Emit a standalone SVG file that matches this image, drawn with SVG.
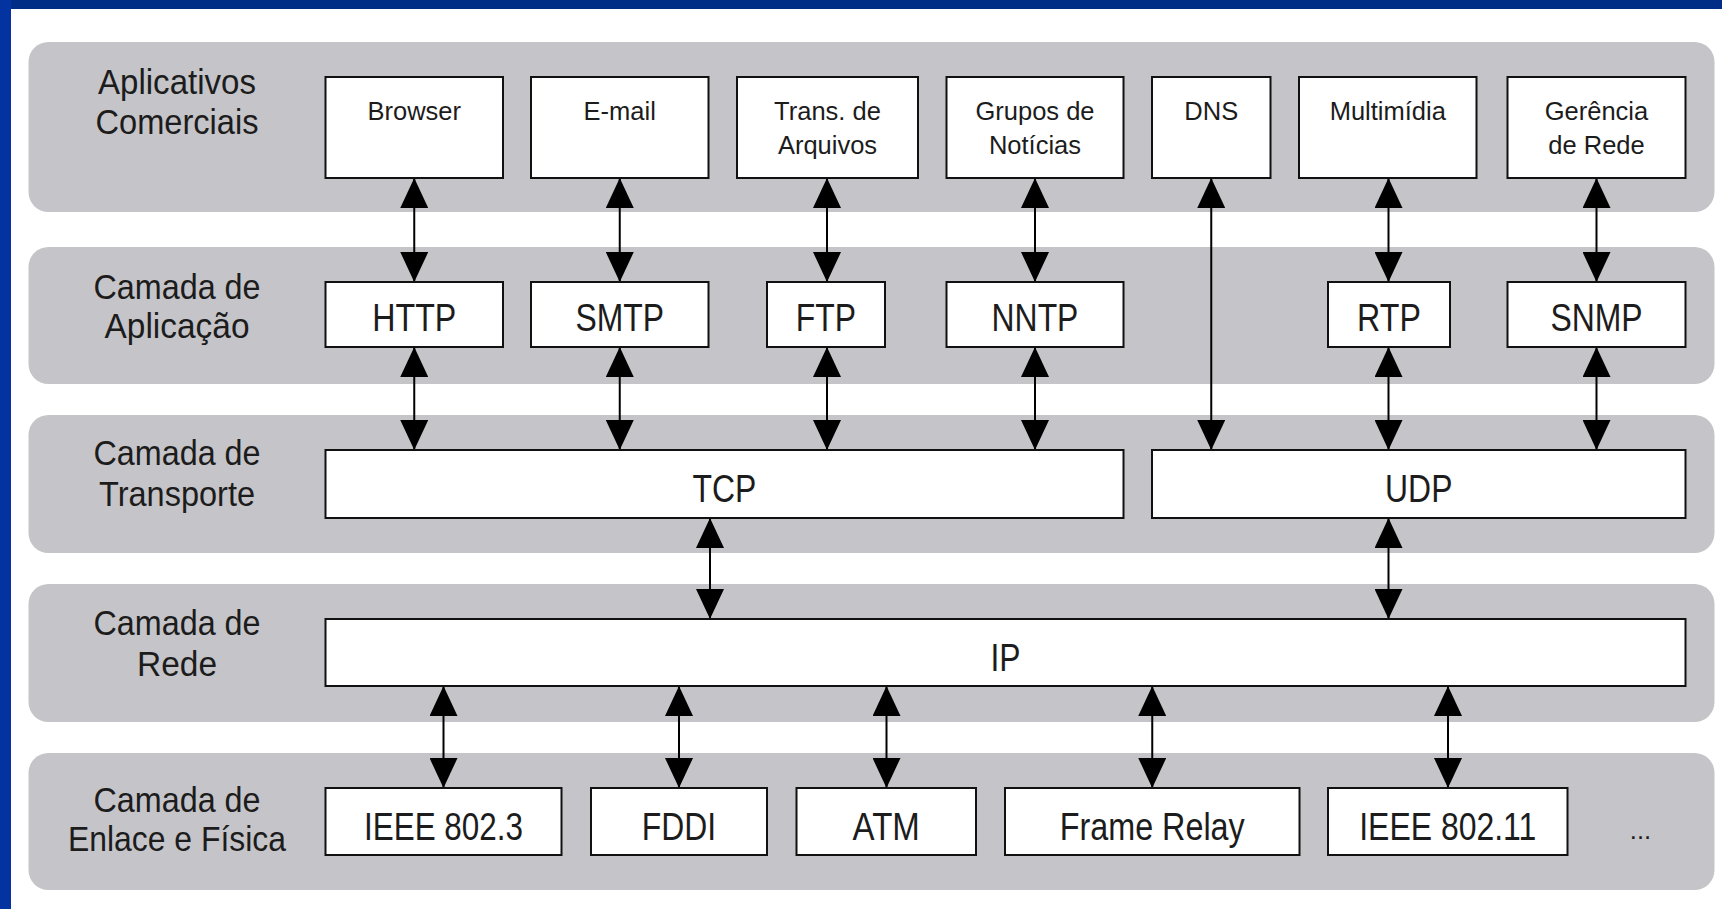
<svg xmlns="http://www.w3.org/2000/svg" width="1722" height="909" viewBox="0 0 1722 909">
  <style>
    .band { fill: #c5c4c8; }
    .box { fill: #ffffff; stroke: #111111; stroke-width: 2; }
    .layer { font-family: "Liberation Sans", Arial, sans-serif; font-size: 35px; fill: #1c1c1c; text-anchor: middle; }
    .app { font-family: "Liberation Sans", Arial, sans-serif; font-size: 25.5px; fill: #1c1c1c; text-anchor: middle; }
    .proto { font-family: "Liberation Sans", Arial, sans-serif; font-size: 38px; fill: #1c1c1c; text-anchor: middle; }
    .link { stroke: #000000; stroke-width: 2; fill: none; marker-start: url(#head); marker-end: url(#head); }
  </style>
  <defs>
    <marker id="head" viewBox="0 0 30 28" refX="30" refY="14" markerWidth="30" markerHeight="28" markerUnits="userSpaceOnUse" orient="auto-start-reverse">
      <path d="M0,0 L30,14 L0,28 Z" fill="#000000"/>
    </marker>
  </defs>

  <!-- page and frame -->
  <rect x="0" y="0" width="1722" height="909" fill="#ffffff"/>
  <rect x="0" y="0" width="1722" height="9" fill="#022d86"/>
  <rect x="0" y="0" width="11" height="909" fill="#0333a0"/>

  <!-- layer bands -->
  <g id="bands">
    <rect class="band" x="28.5" y="42" width="1686" height="170" rx="20" ry="20"/>
    <rect class="band" x="28.5" y="247" width="1686" height="137" rx="20" ry="20"/>
    <rect class="band" x="28.5" y="415" width="1686" height="138" rx="20" ry="20"/>
    <rect class="band" x="28.5" y="584" width="1686" height="138" rx="20" ry="20"/>
    <rect class="band" x="28.5" y="753" width="1686" height="137" rx="20" ry="20"/>
  </g>

  <!-- layer titles -->
  <g id="layer-titles">
    <text class="layer" x="177" y="93.5" textLength="158" lengthAdjust="spacingAndGlyphs">Aplicativos</text>
    <text class="layer" x="177" y="134" textLength="163" lengthAdjust="spacingAndGlyphs">Comerciais</text>
    <text class="layer" x="177" y="298.5" textLength="167" lengthAdjust="spacingAndGlyphs">Camada de</text>
    <text class="layer" x="177" y="337.5" textLength="145" lengthAdjust="spacingAndGlyphs">Aplicação</text>
    <text class="layer" x="177" y="465" textLength="167" lengthAdjust="spacingAndGlyphs">Camada de</text>
    <text class="layer" x="177" y="506" textLength="156" lengthAdjust="spacingAndGlyphs">Transporte</text>
    <text class="layer" x="177" y="635" textLength="167" lengthAdjust="spacingAndGlyphs">Camada de</text>
    <text class="layer" x="177" y="676" textLength="80" lengthAdjust="spacingAndGlyphs">Rede</text>
    <text class="layer" x="177" y="811.5" textLength="167" lengthAdjust="spacingAndGlyphs">Camada de</text>
    <text class="layer" x="177" y="850.5" textLength="218" lengthAdjust="spacingAndGlyphs">Enlace e Física</text>
  </g>

  <!-- connectors -->
  <g id="connectors">
    <line class="link" x1="414.25" y1="178" x2="414.25" y2="282"/>
    <line class="link" x1="619.75" y1="178" x2="619.75" y2="282"/>
    <line class="link" x1="827" y1="178" x2="827" y2="282"/>
    <line class="link" x1="1035" y1="178" x2="1035" y2="282"/>
    <line class="link" x1="1388.5" y1="178" x2="1388.5" y2="282"/>
    <line class="link" x1="1596.5" y1="178" x2="1596.5" y2="282"/>

    <line class="link" x1="414.25" y1="347" x2="414.25" y2="450"/>
    <line class="link" x1="619.75" y1="347" x2="619.75" y2="450"/>
    <line class="link" x1="827" y1="347" x2="827" y2="450"/>
    <line class="link" x1="1035" y1="347" x2="1035" y2="450"/>
    <line class="link" x1="1211.25" y1="178" x2="1211.25" y2="450"/>
    <line class="link" x1="1388.5" y1="347" x2="1388.5" y2="450"/>
    <line class="link" x1="1596.5" y1="347" x2="1596.5" y2="450"/>

    <line class="link" x1="710" y1="518" x2="710" y2="619"/>
    <line class="link" x1="1388.5" y1="518" x2="1388.5" y2="619"/>

    <line class="link" x1="443.5" y1="686" x2="443.5" y2="788"/>
    <line class="link" x1="679" y1="686" x2="679" y2="788"/>
    <line class="link" x1="886.5" y1="686" x2="886.5" y2="788"/>
    <line class="link" x1="1152.25" y1="686" x2="1152.25" y2="788"/>
    <line class="link" x1="1448" y1="686" x2="1448" y2="788"/>
  </g>

  <!-- commercial applications -->
  <g id="browser"><rect class="box" x="325.5" y="77" width="177.5" height="101"/><text class="app" x="414.25" y="120">Browser</text></g>
  <g id="email"><rect class="box" x="531" y="77" width="177.5" height="101"/><text class="app" x="619.75" y="120">E-mail</text></g>
  <g id="transfer"><rect class="box" x="737" y="77" width="181" height="101"/><text class="app" x="827.5" y="120">Trans. de</text><text class="app" x="827.5" y="154">Arquivos</text></g>
  <g id="news"><rect class="box" x="946.5" y="77" width="177" height="101"/><text class="app" x="1035" y="120">Grupos de</text><text class="app" x="1035" y="154">Notícias</text></g>
  <g id="dns"><rect class="box" x="1152" y="77" width="118.5" height="101"/><text class="app" x="1211.25" y="120">DNS</text></g>
  <g id="multimedia"><rect class="box" x="1299" y="77" width="177.5" height="101"/><text class="app" x="1387.75" y="120">Multimídia</text></g>
  <g id="management"><rect class="box" x="1507.5" y="77" width="178" height="101"/><text class="app" x="1596.5" y="120">Gerência</text><text class="app" x="1596.5" y="154">de Rede</text></g>

  <!-- application layer -->
  <g id="http"><rect class="box" x="325.5" y="282" width="177.5" height="65"/><text class="proto" x="414.25" y="331" textLength="84" lengthAdjust="spacingAndGlyphs">HTTP</text></g>
  <g id="smtp"><rect class="box" x="531" y="282" width="177.5" height="65"/><text class="proto" x="619.75" y="331" textLength="88.6" lengthAdjust="spacingAndGlyphs">SMTP</text></g>
  <g id="ftp"><rect class="box" x="767" y="282" width="118" height="65"/><text class="proto" x="826" y="331" textLength="60.3" lengthAdjust="spacingAndGlyphs">FTP</text></g>
  <g id="nntp"><rect class="box" x="946.5" y="282" width="177" height="65"/><text class="proto" x="1035" y="331" textLength="86.8" lengthAdjust="spacingAndGlyphs">NNTP</text></g>
  <g id="rtp"><rect class="box" x="1328" y="282" width="122" height="65"/><text class="proto" x="1389" y="331" textLength="63.8" lengthAdjust="spacingAndGlyphs">RTP</text></g>
  <g id="snmp"><rect class="box" x="1507.5" y="282" width="178" height="65"/><text class="proto" x="1596.5" y="331" textLength="92.2" lengthAdjust="spacingAndGlyphs">SNMP</text></g>

  <!-- transport layer -->
  <g id="tcp"><rect class="box" x="325.5" y="450" width="798" height="68"/><text class="proto" x="724.5" y="502" textLength="63.8" lengthAdjust="spacingAndGlyphs">TCP</text></g>
  <g id="udp"><rect class="box" x="1152" y="450" width="533.5" height="68"/><text class="proto" x="1418.75" y="502" textLength="67.3" lengthAdjust="spacingAndGlyphs">UDP</text></g>

  <!-- network layer -->
  <g id="ip"><rect class="box" x="325.5" y="619" width="1360" height="67"/><text class="proto" x="1005.5" y="670.5" textLength="30.1" lengthAdjust="spacingAndGlyphs">IP</text></g>

  <!-- link and physical layer -->
  <g id="ieee8023"><rect class="box" x="325.5" y="788" width="236" height="67"/><text class="proto" x="443.5" y="840" textLength="159" lengthAdjust="spacingAndGlyphs">IEEE 802.3</text></g>
  <g id="fddi"><rect class="box" x="591" y="788" width="176" height="67"/><text class="proto" x="679" y="840" textLength="74.4" lengthAdjust="spacingAndGlyphs">FDDI</text></g>
  <g id="atm"><rect class="box" x="796.5" y="788" width="179.5" height="67"/><text class="proto" x="886.25" y="840" textLength="67.3" lengthAdjust="spacingAndGlyphs">ATM</text></g>
  <g id="framerelay"><rect class="box" x="1005" y="788" width="294.5" height="67"/><text class="proto" x="1152.25" y="840" textLength="185" lengthAdjust="spacingAndGlyphs">Frame Relay</text></g>
  <g id="ieee80211"><rect class="box" x="1328" y="788" width="239.5" height="67"/><text class="proto" x="1447.75" y="840" textLength="177" lengthAdjust="spacingAndGlyphs">IEEE 802.11</text></g>
  <g id="more"><text class="app" x="1640.5" y="839">...</text></g>
</svg>
